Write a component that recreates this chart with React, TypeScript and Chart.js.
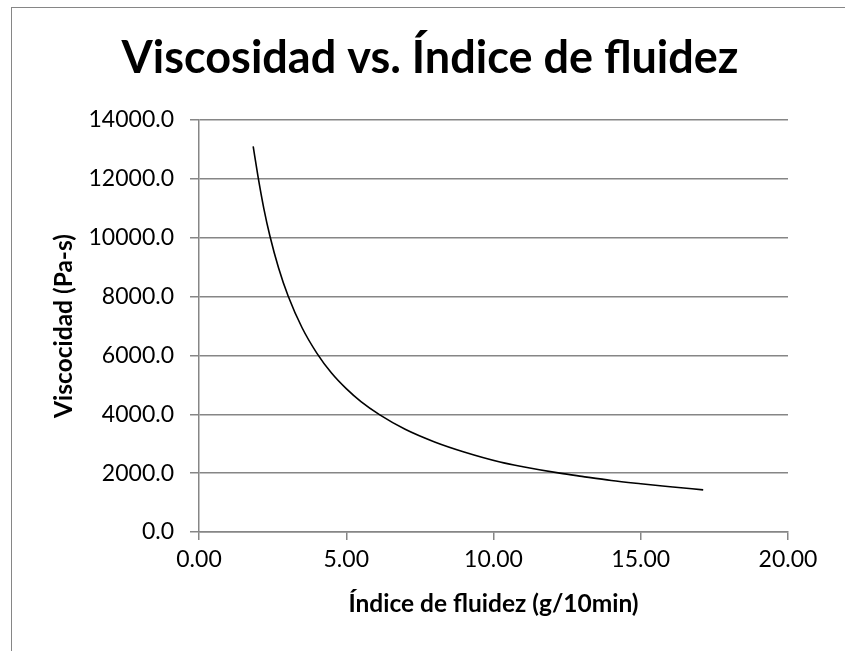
import React, { useEffect, useRef } from "react";
import { Chart, registerables } from "chart.js";

Chart.register(...registerables);

const fluidityIndex: number[] = [1.84, 2.0, 2.2, 2.41, 2.7, 3.03, 3.5, 4.0, 4.5, 5.0, 5.5, 6.14, 7.0, 8.0, 9.0, 10.22, 11.0, 12.25, 13.0, 14.0, 15.0, 16.0, 17.12];
const viscosity: number[] = [13100, 12100, 11000, 10050, 8980, 8010, 6940, 6080, 5400, 4870, 4430, 3980, 3490, 3060, 2720, 2380, 2220, 2000, 1890, 1750, 1640, 1540, 1430];

const chartTitle = "Viscosidad vs. Índice de fluidez";
const xTitle = "Índice de fluidez (g/10min)";
const yTitle = "Viscocidad (Pa-s)";

const FONT = "Lato, 'Open Sans', sans-serif";
const GRID = "#868686";

export default function App() {
  const ref = useRef<HTMLCanvasElement | null>(null);

  useEffect(() => {
    if (!ref.current) return;
    const points = fluidityIndex.map((x, i) => ({ x, y: viscosity[i] }));
    const chart = new Chart(ref.current, {
      type: "scatter",
      data: {
        datasets: [
          {
            data: points,
            showLine: true,
            borderColor: "#000000",
            borderWidth: 1.6,
            pointRadius: 0,
            cubicInterpolationMode: "monotone",
            fill: false,
          },
        ],
      },
      options: {
        responsive: false,
        animation: false,
        layout: { padding: { left: 15, right: 0, top: 0, bottom: 0 } },
        plugins: {
          legend: { display: false },
          tooltip: { enabled: false },
          title: {
            display: true,
            text: chartTitle,
            color: "#000000",
            font: { family: FONT, size: 45, weight: "bold", lineHeight: 1.2 },
            padding: { top: 31, bottom: 35 },
          },
        },
        scales: {
          x: {
            type: "linear",
            min: 0,
            max: 20,
            afterFit: (s: any) => {
              s.height = 119;
            },
            ticks: {
              stepSize: 5,
              color: "#000000",
              font: { family: FONT, size: 23 },
              padding: 6,
              maxRotation: 0,
              callback: (v: any) => Number(v).toFixed(2),
            },
            grid: {
              drawOnChartArea: false,
              drawTicks: true,
              tickLength: 8,
              color: GRID,
              lineWidth: 1.5,
            },
            border: { color: GRID, width: 1.5 },
            title: {
              display: true,
              text: xTitle,
              color: "#000000",
              font: { family: FONT, size: 24.5, weight: "bold", lineHeight: 1.2 },
              padding: { top: 0, bottom: 32 },
            },
          },
          y: {
            type: "linear",
            min: 0,
            max: 14000,
            afterFit: (s: any) => {
              s.width = 184;
            },
            ticks: {
              stepSize: 2000,
              color: "#000000",
              font: { family: FONT, size: 23 },
              padding: 16,
              callback: (v: any) => Number(v).toFixed(1),
            },
            grid: {
              drawOnChartArea: true,
              drawTicks: true,
              tickLength: 9,
              color: GRID,
              lineWidth: 1.5,
            },
            border: { color: GRID, width: 1.5 },
            title: {
              display: true,
              text: yTitle,
              color: "#000000",
              font: { family: FONT, size: 24.5, weight: "bold", lineHeight: 1.2 },
              padding: { top: 34, bottom: 0 },
            },
          },
          yRight: {
            type: "linear",
            position: "right",
            display: true,
            afterFit: (s: any) => {
              s.width = 57;
            },
            ticks: { display: false },
            grid: { display: false, drawTicks: false },
            border: { display: false },
          },
        },
      },
    });
    return () => chart.destroy();
  }, []);

  return (
    <div style={{ position: "fixed", left: 0, top: 0, width: 845, height: 651, overflow: "hidden", background: "#ffffff" }}>
      <div
        style={{
          position: "absolute",
          left: 11,
          top: 7,
          width: 900,
          height: 700,
          borderLeft: "1px solid #868686",
          borderTop: "1px solid #868686",
        }}
      />
      <canvas ref={ref} width={845} height={651} style={{ position: "absolute", left: 0, top: 0, width: 845, height: 651 }} />
    </div>
  );
}
